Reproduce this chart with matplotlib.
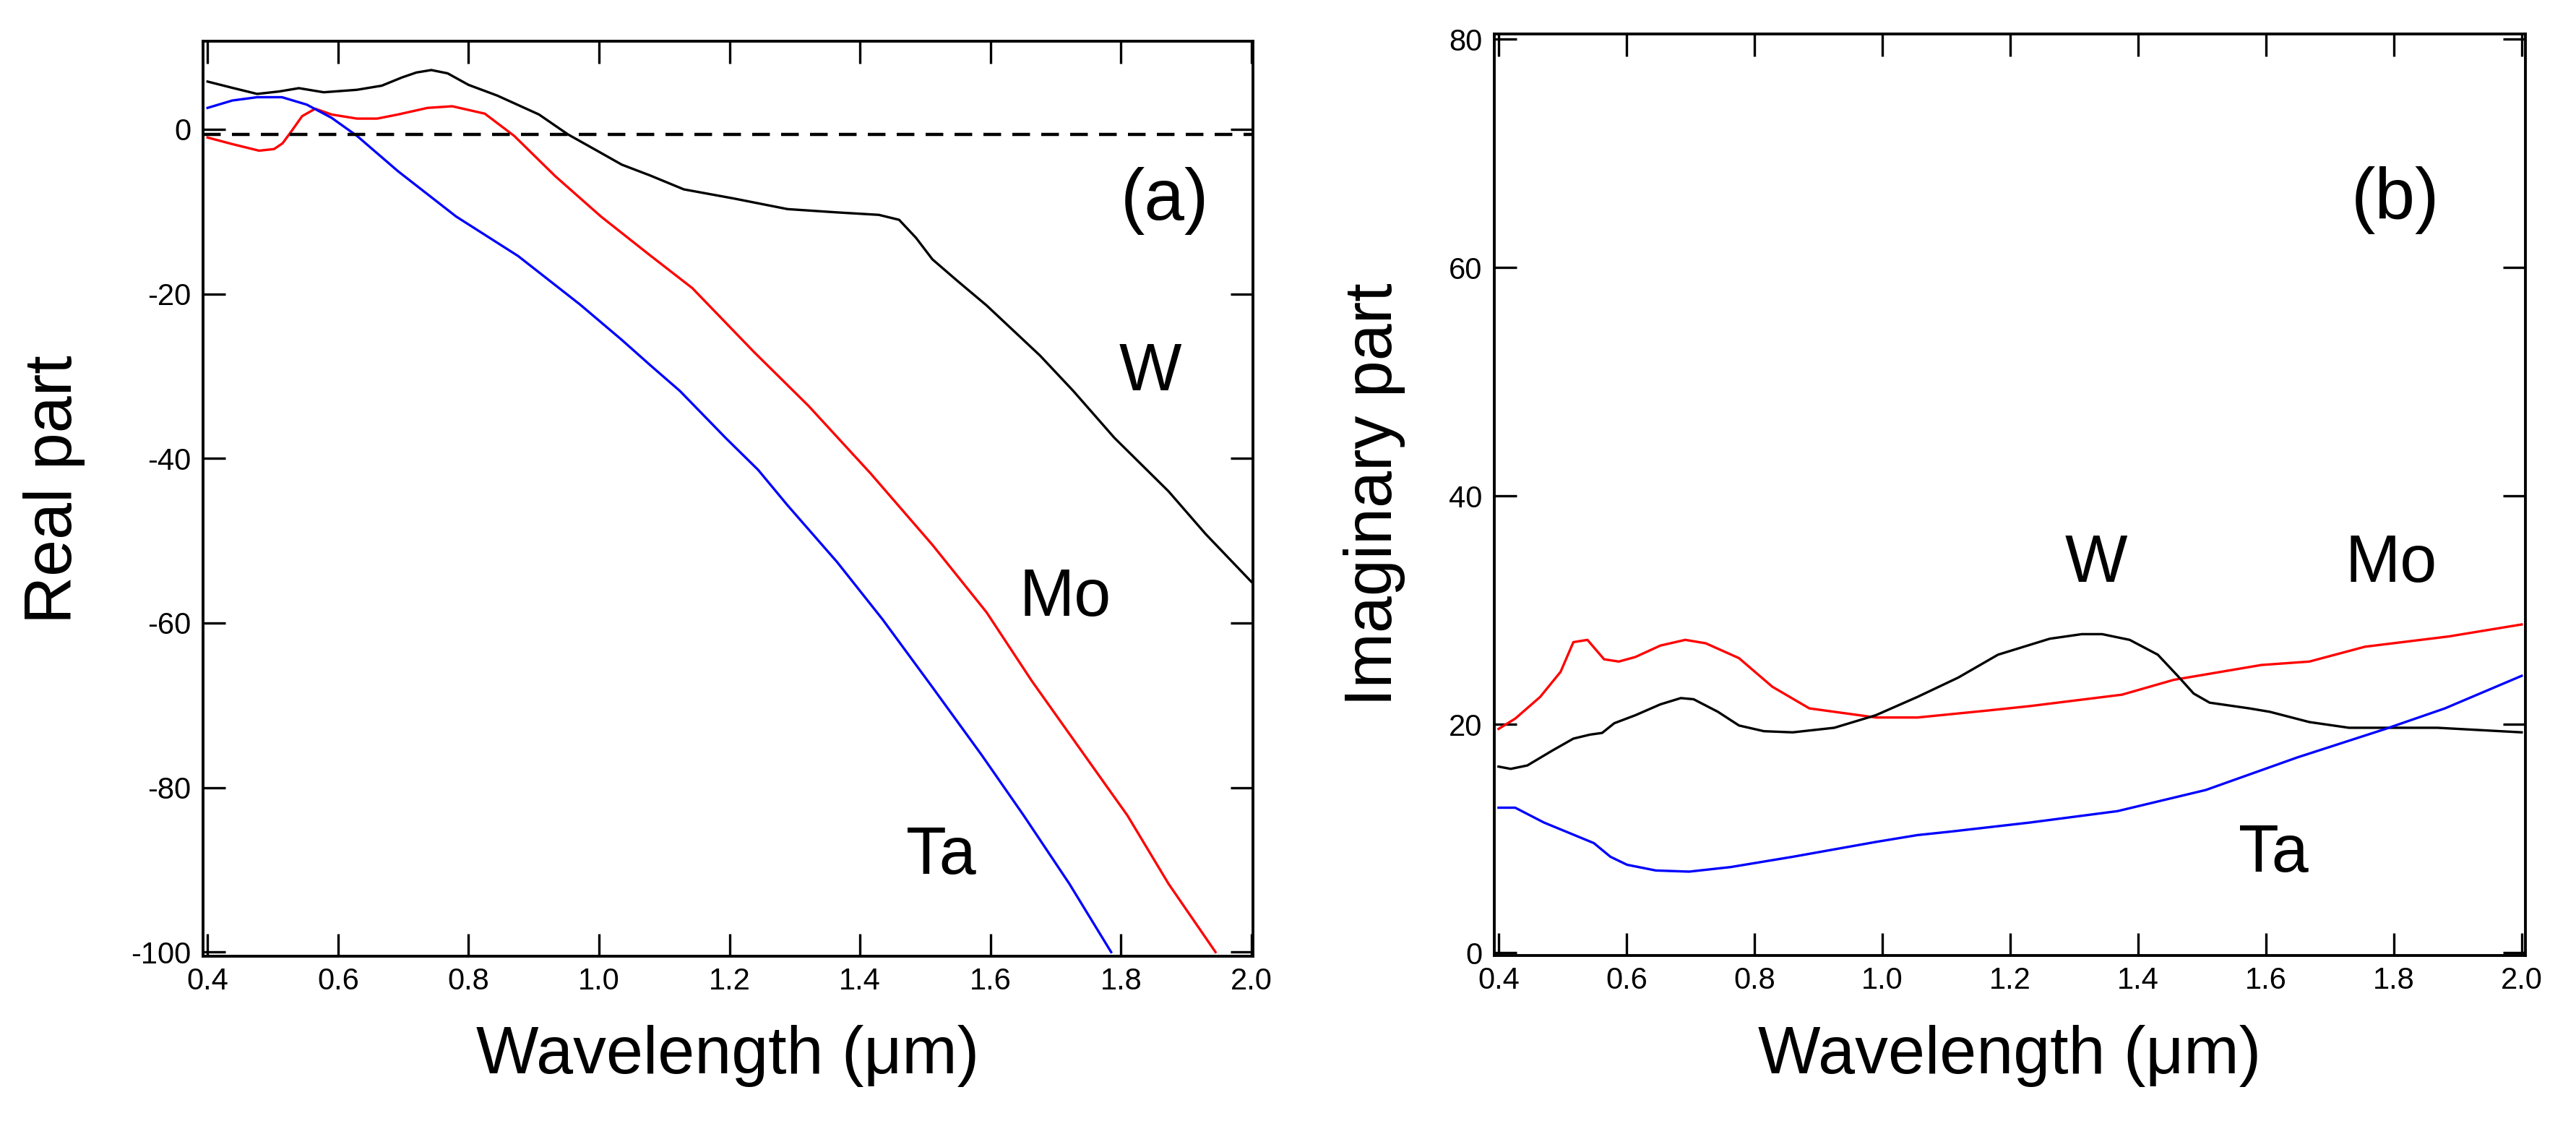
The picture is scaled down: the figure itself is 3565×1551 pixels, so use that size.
import matplotlib
matplotlib.use("Agg")
import matplotlib.pyplot as plt

# ---- data ----
# (a) real part
w_re_x = [0.40, 0.44, 0.476, 0.51, 0.54, 0.578, 0.629, 0.667, 0.698, 0.72, 0.743, 0.768, 0.80, 0.844,
          0.908, 0.952, 0.997, 1.035, 1.078, 1.13, 1.206, 1.289, 1.365, 1.429, 1.46, 1.486, 1.511, 1.549,
          1.594, 1.676, 1.727, 1.79, 1.873, 1.93, 2.0]
w_re_y = [5.8, 5.0, 4.3, 4.6, 5.0, 4.5, 4.8, 5.3, 6.3, 6.9, 7.2, 6.8, 5.4, 4.1,
          1.8, -0.6, -2.6, -4.3, -5.6, -7.3, -8.4, -9.7, -10.1, -10.4, -11.0, -13.2, -15.8, -18.4,
          -21.4, -27.5, -31.8, -37.5, -44.0, -49.2, -55.0]

mo_re_x = [0.40, 0.438, 0.479, 0.502, 0.515, 0.528, 0.545, 0.565, 0.59, 0.629, 0.66, 0.692, 0.737,
           0.775, 0.825, 0.87, 0.933, 1.003, 1.078, 1.143, 1.238, 1.321, 1.416, 1.511, 1.594, 1.663,
           1.74, 1.81, 1.873, 1.945]
mo_re_y = [-1.0, -1.8, -2.6, -2.4, -1.7, -0.3, 1.6, 2.5, 1.8, 1.3, 1.3, 1.8, 2.6,
           2.8, 1.9, -0.8, -5.7, -10.6, -15.3, -19.3, -27.1, -33.6, -41.8, -50.5, -58.7, -67.0,
           -75.6, -83.4, -91.7, -100.0]

ta_re_x = [0.40, 0.438, 0.476, 0.514, 0.552, 0.59, 0.629, 0.692, 0.781, 0.876, 0.971, 1.035, 1.079,
           1.124, 1.194, 1.244, 1.289, 1.365, 1.435, 1.511, 1.587, 1.651, 1.721, 1.785]
ta_re_y = [2.6, 3.5, 3.9, 3.9, 3.0, 1.4, -0.8, -5.1, -10.6, -15.4, -21.3, -25.6, -28.7,
           -31.8, -37.5, -41.4, -45.7, -52.6, -59.6, -67.8, -76.1, -83.4, -91.7, -100.0]

# (b) imaginary part
w_im_x = [0.40, 0.419, 0.445, 0.484, 0.517, 0.543, 0.562, 0.581, 0.614, 0.653, 0.685, 0.705, 0.743,
          0.776, 0.815, 0.86, 0.925, 0.99, 1.055, 1.119, 1.181, 1.262, 1.312, 1.344, 1.387, 1.431,
          1.462, 1.487, 1.512, 1.574, 1.606, 1.668, 1.73, 1.793, 1.868, 2.0]
w_im_y = [16.3, 16.1, 16.4, 17.7, 18.75, 19.1, 19.25, 20.1, 20.8, 21.75, 22.3, 22.2, 21.1,
          19.9, 19.4, 19.3, 19.7, 20.8, 22.4, 24.1, 26.1, 27.5, 27.9, 27.9, 27.4, 26.1,
          24.25, 22.7, 21.9, 21.4, 21.1, 20.2, 19.7, 19.7, 19.7, 19.3]

mo_im_x = [0.40, 0.426, 0.465, 0.497, 0.517, 0.539, 0.565, 0.588, 0.614, 0.653, 0.692, 0.724, 0.776,
           0.828, 0.886, 0.925, 0.99, 1.055, 1.163, 1.231, 1.375, 1.456, 1.593, 1.668, 1.755, 1.886, 2.0]
mo_im_y = [19.6, 20.5, 22.4, 24.6, 27.2, 27.4, 25.7, 25.5, 25.9, 26.9, 27.4, 27.1, 25.8,
           23.3, 21.4, 21.1, 20.6, 20.6, 21.2, 21.6, 22.6, 23.9, 25.2, 25.5, 26.8, 27.7, 28.75]

ta_im_x = [0.40, 0.426, 0.471, 0.51, 0.549, 0.575, 0.601, 0.646, 0.698, 0.763, 0.86, 0.99, 1.055,
           1.106, 1.231, 1.368, 1.506, 1.649, 1.787, 1.88, 2.0]
ta_im_y = [12.7, 12.7, 11.4, 10.5, 9.6, 8.4, 7.7, 7.2, 7.1, 7.5, 8.4, 9.7, 10.3,
           10.6, 11.4, 12.4, 14.25, 17.1, 19.6, 21.4, 24.25]

x_ticks = [0.4, 0.6, 0.8, 1.0, 1.2, 1.4, 1.6, 1.8, 2.0]
re_ticks = [0, -20, -40, -60, -80, -100]
im_ticks = [0, 20, 40, 60, 80]
zero_line = -0.6

plt.rcParams['font.family'] = ['Liberation Sans', 'DejaVu Sans']

fig = plt.figure(figsize=(35.65, 15.51), dpi=100)
ax1 = fig.add_axes([0.0788, 0.147, 0.4075, 0.8162])
ax2 = fig.add_axes([0.580, 0.1476, 0.4004, 0.8224])

lw = 2.4
ax1.plot(w_re_x, w_re_y, color='black', lw=lw)
ax1.plot(mo_re_x, mo_re_y, color='#ff0000', lw=lw)
ax1.plot(ta_re_x, ta_re_y, color='#0000ff', lw=lw)
ax1.axhline(zero_line, color='black', lw=3.2, ls=(0, (5.5, 3.5)))

ax2.plot(mo_im_x, mo_im_y, color='#ff0000', lw=lw)
ax2.plot(w_im_x, w_im_y, color='black', lw=lw)
ax2.plot(ta_im_x, ta_im_y, color='#0000ff', lw=lw)

ax1.set_xlim(0.393, 2.002)
ax1.set_ylim(-100.5, 10.7)
ax2.set_xlim(0.393, 2.006)
ax2.set_ylim(-0.25, 80.5)

for ax in (ax1, ax2):
    ax.set_xticks(x_ticks)
    ax.set_xticklabels(['%.1f' % v for v in x_ticks], fontsize=30)
    ax.tick_params(direction='in', length=22, width=2.4, top=True, right=True)
    ax.tick_params(axis='x', pad=11)
    ax.tick_params(axis='y', pad=12)
    for s in ax.spines.values():
        s.set_linewidth(2.8)

ax1.set_yticks(re_ticks)
ax1.set_yticklabels([str(v) for v in re_ticks], fontsize=30)
ax2.set_yticks(im_ticks)
ax2.set_yticklabels([str(v) for v in im_ticks], fontsize=30)

ax1.set_ylabel('Real part', fontsize=66)
ax1.yaxis.set_label_coords(-0.112, 0.51)
ax2.set_ylabel('Imaginary part', fontsize=66)
ax2.yaxis.set_label_coords(-0.086, 0.5)
for ax in (ax1, ax2):
    ax.set_xlabel('Wavelength (\u03bcm)', fontsize=66)
    ax.xaxis.set_label_coords(0.5, -0.075)

ax1.text(1.867, -8.7, '(a)', fontsize=72, ha='center', va='center')
ax1.text(1.845, -29.6, 'W', fontsize=66, ha='center', va='center')
ax1.text(1.714, -57.0, 'Mo', fontsize=66, ha='center', va='center')
ax1.text(1.524, -88.4, 'Ta', fontsize=66, ha='center', va='center')

ax2.text(1.802, 65.9, '(b)', fontsize=72, ha='center', va='center')
ax2.text(1.335, 34.0, 'W', fontsize=66, ha='center', va='center')
ax2.text(1.796, 34.0, 'Mo', fontsize=66, ha='center', va='center')
ax2.text(1.612, 8.6, 'Ta', fontsize=66, ha='center', va='center')

fig.savefig('out.png', dpi=100, facecolor='white')
